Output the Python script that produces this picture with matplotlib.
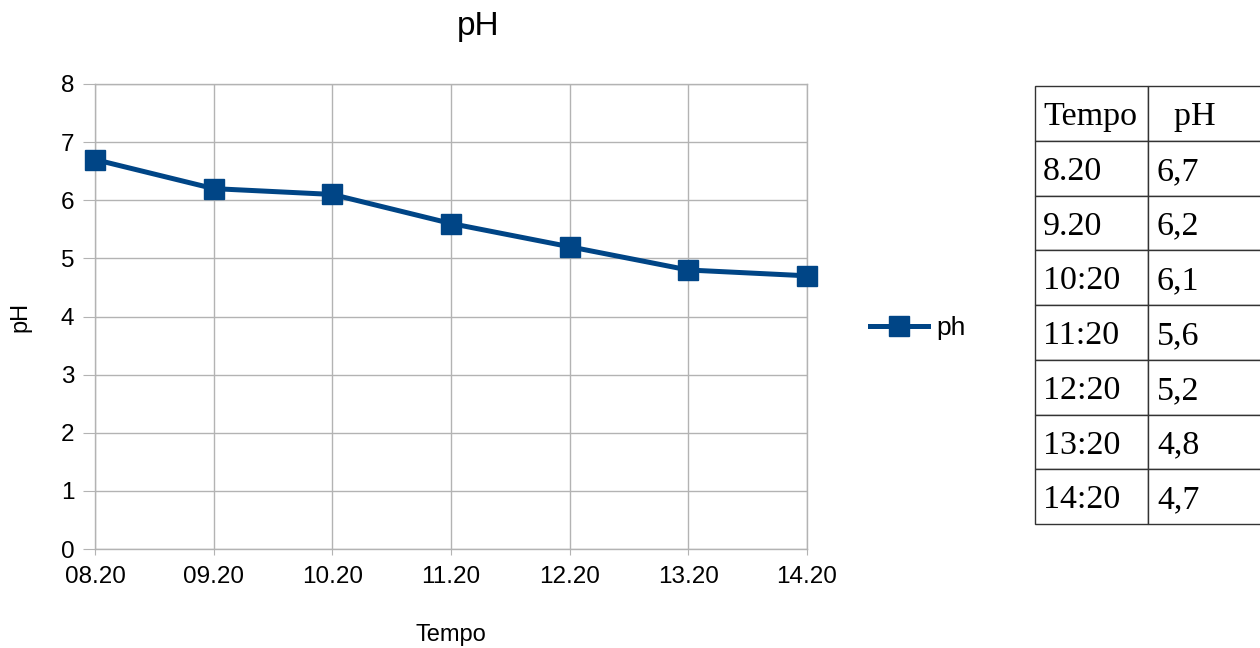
import matplotlib.pyplot as plt

# chart data
times = ["08.20", "09.20", "10.20", "11.20", "12.20", "13.20", "14.20"]
ph_values = [6.7, 6.2, 6.1, 5.6, 5.2, 4.8, 4.7]

# side table data (as written in the sheet)
table_header = ["Tempo", "  pH"]
table_tempo = ["8.20", "9.20", "10:20", "11:20", "12:20", "13:20", "14:20"]
table_ph = ["6,7", "6,2", "6,1", "5,6", "5,2", "4,8", "4,7"]

blue = "#004586"
grid = "#b3b3b3"

plt.rcParams["font.family"] = ["Liberation Sans", "DejaVu Sans"]

W, H = 1260, 648
fig = plt.figure(figsize=(12.6, 6.48), dpi=100)
ax = fig.add_axes([95 / W, 1 - 549 / H, (807 - 95) / W, (549 - 84) / H])

x = list(range(len(times)))
ax.plot(x, ph_values, color=blue, lw=3.6, marker="s", ms=14, label="ph",
        zorder=3, clip_on=False)

ax.set_xlim(0, len(times) - 1)
ax.set_ylim(0, 8)
ax.set_xticks(x)
ax.set_xticklabels(times)
ax.set_yticks(range(0, 9))
ax.grid(True, color=grid, lw=1)
ax.set_axisbelow(True)
for s in ax.spines.values():
    s.set_color(grid)
    s.set_linewidth(1)
ax.tick_params(axis="y", length=9, color=grid, labelsize=17.5, pad=6)
ax.tick_params(axis="x", length=4.5, color=grid, labelsize=17.5, pad=8)
ax.set_xlabel("Tempo", fontsize=17, labelpad=26)
ax.set_ylabel("pH", fontsize=17, labelpad=21)

fig.text(478 / W, 1 - 27 / H, "pH", ha="center", va="center", fontsize=24)

fig.legend(loc="center left", bbox_to_anchor=(857 / W, 1 - 328 / H), frameon=False,
           fontsize=19, handlelength=2.2, handletextpad=0.3, borderpad=0)

# table at the right, cut by the figure edge
tax = fig.add_axes([1035 / W, 1 - 524 / H, 240 / W, (524 - 86) / H])
tax.axis("off")
cells = [[t, p] for t, p in zip(table_tempo, table_ph)]
tbl = tax.table(cellText=[table_header] + cells, cellLoc="left",
                colWidths=[113 / 240, 127 / 240], bbox=[0, 0, 1, 1])
tbl.auto_set_font_size(False)
for (r, c), cell in tbl.get_celld().items():
    cell.set_edgecolor("#333333")
    cell.set_linewidth(1)
    cell.PAD = 0.07
    cell.get_text().set_fontsize(24.5)
    cell.get_text().set_fontfamily("Liberation Serif")
    cell.get_text().set_va("center_baseline")

fig.savefig("out.png", dpi=100)
